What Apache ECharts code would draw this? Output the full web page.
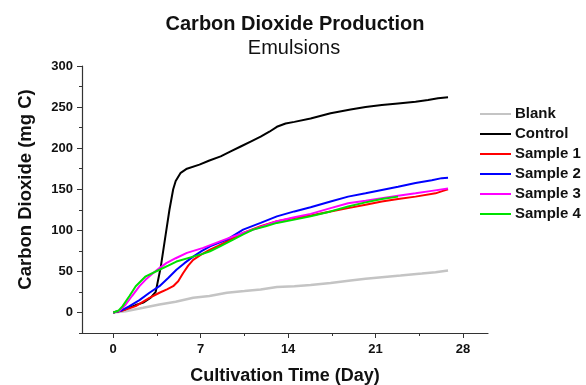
<!DOCTYPE html>
<html>
<head>
<meta charset="utf-8">
<script src="https://cdn.jsdelivr.net/npm/echarts@6/dist/echarts.min.js"></script>
<style>
  html, body { margin: 0; padding: 0; background: #fff; }
  #chart { width: 586px; height: 385px; }
</style>
</head>
<body>
<div id="chart"></div>
<script>
// [day, mg C]
const blank = [[0,0],[1,1.5],[2.4,5.7],[3.7,9.7],[5,13],[6.4,17.8],[7.7,20],[9.1,24],[10.5,26],[11.8,28],[13.1,31],[14.5,32],[15.8,33.5],[17.4,36],[19,39],[20.2,41],[21.5,43],[23,45],[24.7,47.4],[25.8,49],[26.8,51]]
const control = [[0,0],[1,4],[1.8,9],[2.4,12],[3.0,18],[3.4,25],[3.8,55],[4.2,95],[4.5,125],[4.8,150],[5.0,160],[5.4,170],[5.9,175],[6.9,180],[7.7,185],[8.6,190],[9.4,196],[10.2,202],[11.0,208],[11.8,214],[12.5,220],[13.1,226],[13.8,230],[14.5,232],[15.8,236],[17.4,242.5],[19,247],[20.2,250],[21.5,252.6],[22.8,254.5],[24.2,256.6],[25.2,258.5],[26,260.7],[26.8,262]]
const sample1 = [[0,0],[0.8,2.5],[1.8,7.7],[2.9,17.8],[3.7,24],[4.3,28],[4.8,32],[5.2,38],[5.6,48],[6.0,57],[6.4,64],[7.0,70],[7.75,76.5],[8.4,81],[9.1,86.6],[10.4,96.8],[11.8,105],[13.1,111],[14.5,115],[15.8,118],[17.4,123],[18.8,127],[20.2,131],[21.5,135],[22.8,138],[24.2,141],[25.8,145],[26.4,148],[26.8,150]]
const sample2 = [[0,0],[0.6,2],[1.3,7.7],[2.1,15],[2.9,24],[3.7,32],[4.4,42],[5.06,52],[5.7,60],[6.4,68],[7.1,75],[7.75,80.5],[9.1,88.7],[10.4,100.8],[11.8,109],[13.1,117],[14.5,123],[15.8,128],[17.4,135],[18.8,141],[20.2,145],[21.5,149],[22.8,153],[24.2,157.5],[25.5,161],[26.3,163.5],[26.8,164]]
const sample3 = [[0,0],[0.5,2],[1.0,9.7],[1.5,20],[2.1,32],[2.6,40],[3.2,48],[3.7,54],[4.25,60],[5.0,66],[5.9,72.5],[7.2,78.6],[8.55,86.6],[9.5,92],[10.4,96.8],[11.8,104],[13.1,111],[14.5,116],[15.8,120],[17.4,127],[18.8,133],[20.2,136],[21.5,139],[22.8,142],[24.2,145],[25.5,148],[26.8,151]]
const sample4 = [[0,0],[0.4,2],[0.75,7.7],[1.3,20],[1.8,32],[2.6,44],[3.7,52],[4.4,57],[5.06,62],[6.4,68],[7.1,71],[7.75,74.5],[8.55,80.5],[9.6,88.7],[10.4,95],[11.2,100.8],[12.2,105],[13.1,109],[14.5,113],[15.8,117],[17.4,123],[18.8,129],[20.2,134],[21.5,138],[22.8,141]]

const xTicks = [0, 7, 14, 21, 28]
const xMinorTicks = [3.5, 10.5, 17.5, 24.5]
const yTicks = [0, 50, 100, 150, 200, 250, 300]
const yMinorTicks = [-25, 25, 75, 125, 175, 225, 275]

const font = 'Liberation Sans, Arial, sans-serif'
const axisColor = '#333'

const names = ['Blank', 'Control', 'Sample 1', 'Sample 2', 'Sample 3', 'Sample 4']
const colors = ['#c4c4c4', '#000000', '#ff0000', '#0000ff', '#ff00ff', '#00e000']
const seriesData = [blank, control, sample1, sample2, sample3, sample4]

const chart = echarts.init(document.getElementById('chart'))

const option = {
  animation: false,
  title: [
    {
      text: 'Carbon Dioxide Production',
      left: 290, top: 9, textAlign: 'center',
      textStyle: { fontFamily: font, fontSize: 20, fontWeight: 'bold', color: '#111' },
    },
    {
      text: 'Emulsions',
      left: 289, top: 33, textAlign: 'center',
      textStyle: { fontFamily: font, fontSize: 20, fontWeight: 'normal', color: '#111' },
    },
  ],
  legend: {
    orient: 'vertical',
    left: 475, top: 99,
    icon: 'rect',
    itemWidth: 31, itemHeight: 2, itemGap: 0,
    data: names,
    textStyle: { fontFamily: font, fontSize: 15, fontWeight: 'bold', color: '#111', lineHeight: 20, padding: [0, 0, 0, -1] },
  },
  grid: { left: 82, right: 98, top: 66, bottom: 52, outerBoundsMode: 'none' },
  xAxis: [
    {
      type: 'value', min: -2.5, max: 30,
      name: 'Cultivation Time (Day)', nameLocation: 'middle', nameGap: 34,
      nameTextStyle: { fontFamily: font, fontSize: 18, fontWeight: 'bold', color: '#111' },
      splitLine: { show: false },
      axisLine: { show: true, onZero: false, lineStyle: { color: axisColor, width: 1.2 } },
      axisTick: { show: true, length: 5, customValues: xTicks, lineStyle: { color: axisColor } },
      axisLabel: { customValues: xTicks, margin: 10, fontFamily: font, fontSize: 13, fontWeight: 'bold', color: '#111' },
    },
    {
      type: 'value', min: -2.5, max: 30, position: 'bottom',
      splitLine: { show: false },
      axisLine: { show: false, onZero: false },
      axisTick: { show: true, length: 3, customValues: xMinorTicks, lineStyle: { color: axisColor } },
      axisLabel: { show: false },
    },
  ],
  yAxis: [
    {
      type: 'value', min: -25, max: 300,
      name: 'Carbon Dioxide (mg C)', nameLocation: 'middle', nameGap: 47,
      nameTextStyle: { fontFamily: font, fontSize: 18.5, fontWeight: 'bold', color: '#111', padding: [0, 0, 0, 20] },
      splitLine: { show: false },
      axisLine: { show: true, onZero: false, lineStyle: { color: axisColor, width: 1.2 } },
      axisTick: { show: true, length: 5, customValues: yTicks, lineStyle: { color: axisColor } },
      axisLabel: { customValues: yTicks, margin: 9, fontFamily: font, fontSize: 13, fontWeight: 'bold', color: '#111' },
    },
    {
      type: 'value', min: -25, max: 300, position: 'left',
      splitLine: { show: false },
      axisLine: { show: false, onZero: false },
      axisTick: { show: true, length: 3, customValues: yMinorTicks, lineStyle: { color: axisColor } },
      axisLabel: { show: false },
    },
  ],
  series: names.map((name, i) => ({
    name,
    type: 'line',
    data: seriesData[i],
    symbol: 'none',
    color: colors[i],
    lineStyle: { width: i === 0 ? 2.5 : 2, color: colors[i] },
    z: i === 0 ? 1 : 2 + i,
  })),
}

chart.setOption(option)
</script>
</body>
</html>
